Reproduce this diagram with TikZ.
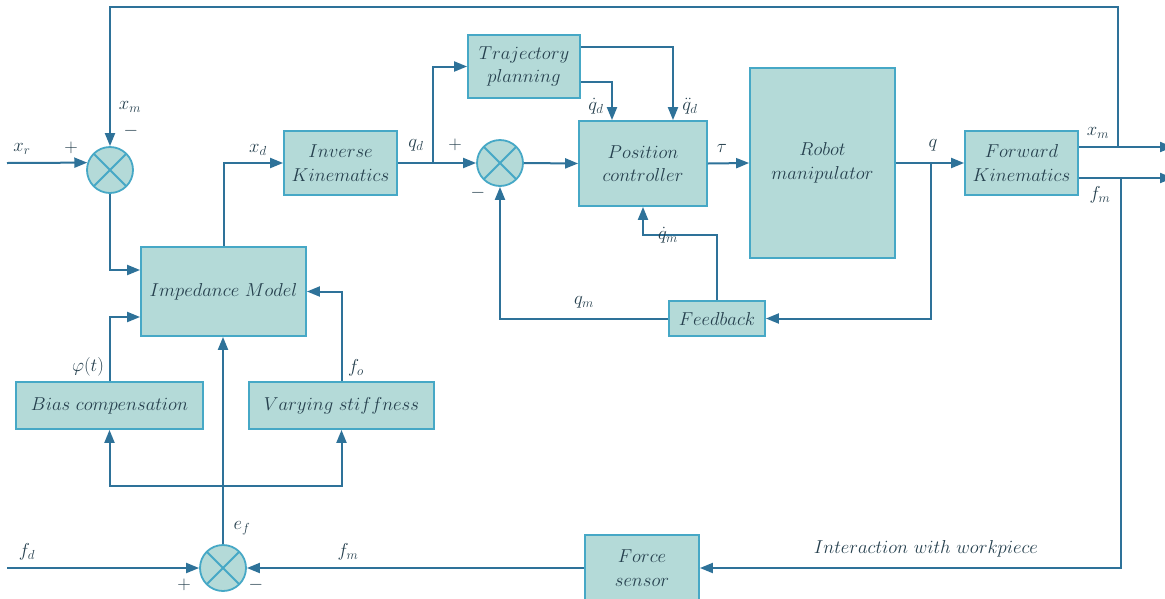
\documentclass[tikz,border=0pt]{standalone}
\usepackage{fix-cm}
\usetikzlibrary{arrows.meta,calc}
\definecolor{boxfill}{RGB}{180,218,216}
\definecolor{boxline}{RGB}{70,168,198}
\definecolor{wire}{RGB}{46,114,153}
\definecolor{txt}{RGB}{38,64,78}
\tikzset{
  blk/.style={draw=boxline,fill=boxfill,line width=1.8pt,text=txt,align=center,inner sep=0pt,font=\fontsize{18.7}{23.5}\selectfont},
  sumnode/.style={circle,draw=boxline,fill=boxfill,line width=1.8pt,minimum size=46pt,inner sep=0pt,
    path picture={\draw[boxline,line width=1.8pt] (path picture bounding box.south west)--(path picture bounding box.north east) (path picture bounding box.north west)--(path picture bounding box.south east);}},
  arr/.style={draw=wire,line width=2pt,-{Triangle[length=13pt,width=10pt]}},
  ln/.style={draw=wire,line width=2pt},
  lbl/.style={text=txt,inner sep=0pt,font=\fontsize{18.7}{22}\selectfont}
}
\begin{document}
\begin{tikzpicture}[x=1pt,y=-1pt]
\useasboundingbox (0,0) rectangle (1165,598);
% blocks
\node[blk,minimum width=113pt,minimum height=64pt] (ik) at (340.5,163) {$Inverse$\\$Kinematics$};
\node[blk,minimum width=112pt,minimum height=63pt] (tp) at (524,66.5) {$Trajectory$\\$planning$};
\node[blk,minimum width=128pt,minimum height=85pt] (pc) at (643,163.5) {$Position$\\$controller$};
\node[blk,minimum width=145pt,minimum height=190pt] (rm) at (822.5,163) {$Robot$\\$manipulator$};
\node[blk,minimum width=113pt,minimum height=64pt] (fk) at (1021.5,163) {$Forward$\\$Kinematics$};
\node[blk,minimum width=96pt,minimum height=35pt] (fb) at (717,318.5) {$Feedback$};
\node[blk,minimum width=165pt,minimum height=89pt] (im) at (223.5,291.5) {$Impedance\ Model$};
\node[blk,minimum width=187pt,minimum height=47pt] (bc) at (109.5,405.5) {$Bias\ compensation$};
\node[blk,minimum width=185pt,minimum height=47pt] (vs) at (341.5,405.5) {$Varying\ stiffness$};
\node[blk,minimum width=114pt,minimum height=66pt] (fs) at (642,568) {$Force$\\$sensor$};
% summing junctions
\node[sumnode] (s1) at (110,170) {};
\node[sumnode] (s2) at (500,163) {};
\node[sumnode] (s3) at (223,568) {};
% coordinates
\coordinate (xrin) at (7,163);
\coordinate (fdin) at (7,568);
\coordinate (top) at (0,7);
\coordinate (br1) at (1118,147);
\coordinate (br2) at (1121,178);
\coordinate (xmout) at (1173,147);
\coordinate (fmout) at (1173,178);
\coordinate (br3) at (223,486);
\coordinate (br4) at (433,163);
\coordinate (br5) at (931,163);
% connectors
\draw[arr] (xrin) -- (s1.162);
\draw[arr] (br1) -- (br1 |- top) -| (s1.north);
\draw[arr] (fk.east |- xmout) -- (xmout);
\draw[arr] (fk.east |- fmout) -- (fmout);
\draw[arr] (br2) |- (fs.east);
\draw[arr] (fs.west) -- (s3.east);
\draw[arr] (fdin) -- (s3.west);
\draw[arr] (s3.north) -- (s3.north |- im.south);
\draw[arr] (br3) -| (bc.south);
\draw[arr] (br3) -| (vs.south);
\draw[arr] (bc.north) |- ($(im.west)+(0,25.5)$);
\draw[arr] (s1.south) |- ($(im.west)+(0,-21.5)$);
\draw[arr] (vs.north) |- (im.east);
\draw[arr] (im.north) |- (ik.west);
\draw[arr] (ik.east) -- (s2.west);
\draw[arr] (br4) |- (tp.west);
\draw[arr] (s2.east) -- (pc.west);
\draw[arr] ($(tp.north east)+(0,13)$) -| ($(pc.north)+(30,0)$);
\draw[arr] ($(tp.south east)+(0,-17)$) -| ($(pc.north)+(-31,0)$);
\draw[arr] (pc.east) -- (rm.west);
\draw[arr] (rm.east) -- (fk.west);
\draw[arr] (br5) |- (fb.east);
\draw[arr] (fb.north) -- ++(0,-65) -| (pc.south);
\draw[arr] (fb.west) -| (s2.south);
% labels
\node[lbl] (lxr) at (22,149) {$x_r$};
\node[lbl] (lp1) at (71,148) {$+$};
\node[lbl] (lxm1) at (130,107) {$x_m$};
\node[lbl] (lm1) at (131,131) {$-$};
\node[lbl] (lxd) at (258,150) {$x_d$};
\node[lbl] (lqd) at (416,145) {$q_d$};
\node[lbl] (lp2) at (455,145) {$+$};
\node[lbl] (lm2) at (478,193) {$-$};
\node[lbl] (lqdd) at (596,106) {$\dot q_d$};
\node[lbl] (lqddd) at (690,106) {$\ddot q_d$};
\node[lbl] (ltau) at (722,148) {$\tau$};
\node[lbl] (lq) at (933,145) {$q$};
\node[lbl] (lxm2) at (1098,133) {$x_m$};
\node[lbl] (lfm2) at (1100,195) {$f_m$};
\node[lbl] (lqdm) at (668,235) {$\dot q_m$};
\node[lbl] (lqm) at (584,302) {$q_m$};
\node[lbl] (lphi) at (88,367) {$\varphi(t)$};
\node[lbl] (lfo) at (356,368) {$f_o$};
\node[lbl] (lef) at (242,528) {$e_f$};
\node[lbl] (lfd) at (27,552) {$f_d$};
\node[lbl] (lfm3) at (348,552) {$f_m$};
\node[lbl] (lp3) at (184,585) {$+$};
\node[lbl] (lm3) at (256,585) {$-$};
\node[lbl] (linter) at (926,549) {$Interaction\ with\ workpiece$};
\end{tikzpicture}
\end{document}
